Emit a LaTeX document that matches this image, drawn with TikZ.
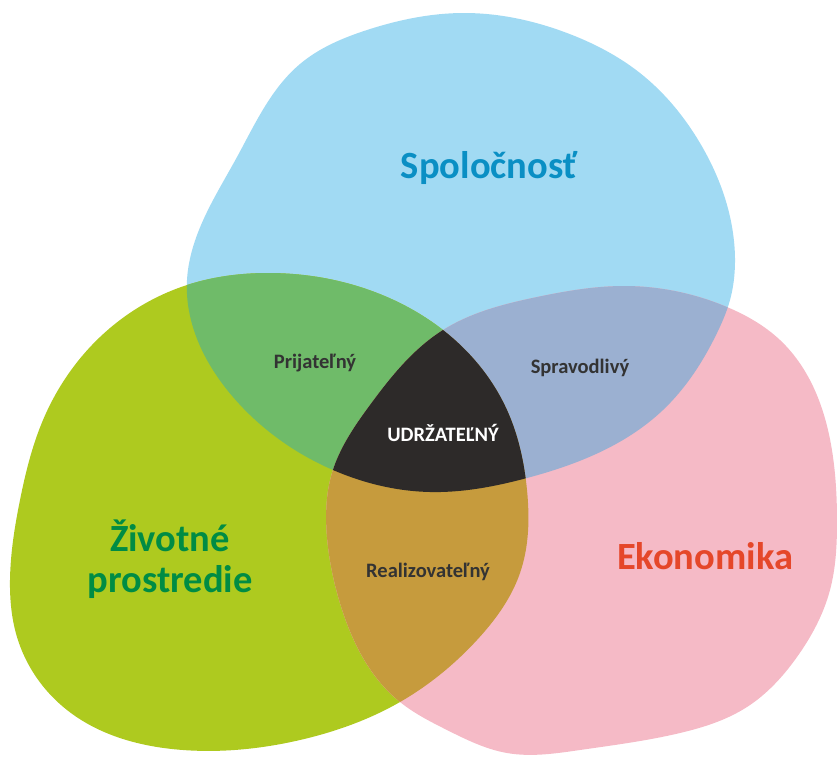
\documentclass[tikz,border=0pt]{standalone}
\usepackage{fontspec}
\setmainfont{Carlito}
\usetikzlibrary{hobby}
\definecolor{blueC}{HTML}{A1DAF3}
\definecolor{greenC}{HTML}{AECA1F}
\definecolor{pinkC}{HTML}{F5BAC6}
\definecolor{gbC}{HTML}{6FBB69}
\definecolor{bpC}{HTML}{9BB0D1}
\definecolor{gpC}{HTML}{C69B3D}
\definecolor{coreC}{HTML}{2D2A29}
\definecolor{txtBlue}{HTML}{0A8FC4}
\definecolor{txtGreen}{HTML}{008C44}
\definecolor{txtRed}{HTML}{E5472A}
\definecolor{txtDark}{HTML}{333333}
\tikzset{
  bigtext/.style={font=\bfseries\fontsize{38.5}{41}\selectfont, align=center, inner sep=0pt},
  smalltext/.style={font=\bfseries\fontsize{20.5}{22}\selectfont, text=txtDark, inner sep=0pt}
}
\begin{document}
\begin{tikzpicture}[x=1pt,y=-1pt]
\useasboundingbox (0,0) rectangle (837,756);
\def\blobB{plot[closed hobby] coordinates{(463,13) (567,33) (640,73) (700,143) (733,233) (735,262) (730,300) (717,333) (663,410) (527,478) (430,492) (333,470) (233,397) (187,280) (193,247) (237,157) (300,64) (367,30)}}
\def\blobG{plot[closed hobby] coordinates{(270,273) (387,297) (443,330) (507,410) (527,490) (520,573) (477,640) (400,702) (300,740) (183,750) (67,710) (17,637) (10,580) (20,500) (43,420) (100,337) (187,285)}}
\def\blobP{plot[closed hobby] coordinates{(443,330) (537,297) (623,286) (727,307) (780,340) (833,457) (837,523) (830,590) (797,657) (747,707) (680,733) (580,750) (507,753) (447,730) (400,702) (340,603) (327,537) (332,473) (370,405)}}
\fill[blueC] \blobB;
\fill[greenC] \blobG;
\fill[pinkC] \blobP;
\begin{scope}
  \clip \blobB;
  \fill[gbC] \blobG;
  \fill[bpC] \blobP;
\end{scope}
\begin{scope}
  \clip \blobG;
  \fill[gpC] \blobP;
\end{scope}
\begin{scope}
  \clip \blobB;
  \clip \blobG;
  \fill[coreC] \blobP;
\end{scope}
\node[bigtext, text=txtBlue] (spol) at (489,168) {Spoločnosť};
\node[bigtext, text=txtGreen] (ziv) at (170,559) {Životné\\prostredie};
\node[bigtext, text=txtRed] (eko) at (705,556) {Ekonomika};
\node[smalltext] (prij) at (315,363) {Prijateľný};
\node[smalltext] (sprav) at (580,368) {Spravodlivý};
\node[smalltext, text=white] (udrz) at (443,433) {UDRŽATEĽNÝ};
\node[smalltext] (real) at (428,572) {Realizovateľný};
\end{tikzpicture}
\end{document}
